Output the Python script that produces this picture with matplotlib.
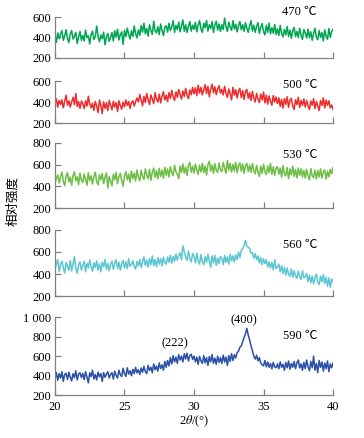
import matplotlib
matplotlib.use("Agg")
import matplotlib.pyplot as plt
import numpy as np

plt.rcParams['font.family'] = ['Liberation Serif', 'Noto Sans CJK SC', 'DejaVu Sans']
plt.rcParams['mathtext.fontset'] = 'stix'

# 2theta grid: 20.0 .. 40.0 step 0.1
two_theta = np.round(np.arange(200, 401) / 10.0, 1)

i_470 = [
    410, 352, 445, 388, 430, 468, 372, 418, 476, 391, 350, 432, 468, 385, 412, 450, 340, 405, 458, 372,
    420, 365, 472, 398, 415, 336, 430, 462, 380, 408, 512, 410, 358, 425, 386, 452, 328, 405, 440, 362,
    400, 448, 365, 466, 402, 480, 375, 428, 455, 330, 470, 408, 492, 430, 385, 465, 410, 512, 438, 395,
    475, 420, 518, 452, 540, 435, 488, 412, 525, 468, 430, 560, 462, 445, 506, 428, 532, 470, 418, 500,
    515, 452, 540, 468, 505, 565, 450, 518, 478, 550, 455, 512, 572, 460, 525, 448, 508, 555, 462, 520,
    480, 548, 455, 522, 565, 485, 450, 540, 495, 568, 462, 525, 488, 555, 450, 520, 560, 472, 532, 460,
    525, 478, 590, 505, 458, 550, 502, 470, 565, 482, 530, 455, 518, 558, 475, 525, 460, 545, 490, 450,
    515, 565, 462, 520, 450, 508, 545, 440, 500, 535, 458, 425, 520, 450, 540, 435, 495, 442, 528, 428,
    485, 420, 518, 442, 405, 480, 425, 508, 410, 472, 392, 465, 498, 408, 460, 398, 490, 420, 382, 478,
    445, 395, 482, 398, 455, 372, 440, 490, 400, 378, 468, 402, 448, 365, 475, 410, 382, 488, 400, 460,
    480]

i_500 = [
    395, 430, 352, 415, 378, 420, 345, 408, 465, 370, 412, 352, 402, 445, 375, 480, 358, 405, 340, 410,
    385, 338, 412, 362, 455, 380, 345, 390, 320, 405, 362, 300, 420, 368, 290, 402, 340, 395, 318, 415,
    370, 325, 408, 352, 395, 310, 412, 365, 332, 400, 355, 420, 368, 405, 340, 395, 412, 362, 405, 438,
    400, 472, 418, 365, 455, 395, 482, 425, 375, 468, 430, 385, 490, 428, 400, 475, 392, 455, 498, 420,
    465, 405, 490, 435, 512, 450, 415, 498, 445, 520, 470, 428, 505, 452, 530, 465, 432, 515, 470, 540,
    478, 535, 460, 560, 485, 540, 468, 515, 565, 480, 550, 450, 522, 570, 488, 545, 470, 525, 555, 485,
    520, 468, 550, 485, 445, 525, 478, 420, 540, 465, 518, 438, 505, 530, 442, 510, 425, 498, 520, 435,
    490, 415, 502, 438, 400, 482, 428, 395, 475, 420, 495, 392, 465, 380, 458, 408, 370, 462, 400, 448,
    385, 440, 358, 425, 342, 432, 378, 450, 350, 418, 435, 360, 330, 422, 375, 445, 348, 415, 368, 430,
    352, 415, 365, 328, 410, 370, 432, 338, 405, 362, 320, 415, 368, 440, 345, 418, 370, 412, 345, 372,
    330]

i_530 = [
    420, 475, 505, 430, 488, 530, 445, 405, 495, 525, 440, 485, 410, 500, 532, 450, 488, 415, 520, 458,
    435, 512, 460, 410, 525, 452, 495, 420, 488, 530, 445, 412, 508, 460, 518, 425, 482, 522, 385, 490,
    450, 405, 512, 460, 528, 425, 488, 520, 452, 400, 495, 535, 460, 512, 435, 540, 470, 520, 448, 550,
    485, 450, 548, 495, 462, 560, 500, 470, 555, 455, 528, 568, 482, 545, 468, 565, 490, 550, 475, 575,
    500, 560, 485, 580, 525, 498, 592, 535, 510, 470, 585, 528, 605, 520, 578, 500, 595, 620, 530, 585,
    520, 605, 550, 510, 595, 532, 612, 525, 588, 505, 600, 630, 540, 595, 520, 610, 545, 528, 615, 550,
    535, 620, 565, 520, 638, 550, 610, 530, 602, 540, 620, 525, 595, 615, 538, 605, 520, 590, 610, 535,
    595, 528, 610, 540, 515, 592, 530, 490, 585, 520, 602, 535, 508, 588, 525, 610, 510, 578, 500, 568,
    580, 510, 568, 485, 590, 515, 495, 572, 470, 560, 505, 585, 490, 555, 478, 568, 500, 560, 485, 548,
    475, 555, 492, 460, 565, 498, 480, 550, 468, 545, 485, 560, 475, 532, 550, 465, 540, 488, 555, 515,
    575]

i_560 = [
    440, 495, 530, 420, 488, 515, 455, 410, 505, 470, 435, 522, 428, 490, 560, 450, 405, 488, 510, 435,
    480, 515, 420, 498, 455, 530, 468, 425, 502, 460, 520, 435, 492, 420, 508, 465, 530, 442, 498, 430,
    488, 515, 442, 500, 530, 450, 508, 435, 495, 522, 455, 512, 448, 540, 470, 488, 520, 465, 445, 515,
    472, 530, 458, 515, 555, 478, 525, 462, 540, 485, 565, 475, 530, 468, 550, 490, 540, 475, 555, 500,
    490, 555, 508, 570, 498, 560, 515, 582, 525, 570, 592, 528, 655, 605, 550, 525, 610, 540, 510, 585,
    565, 500, 590, 520, 490, 575, 515, 485, 560, 505, 580, 520, 460, 565, 500, 570, 478, 545, 495, 560,
    540, 485, 570, 505, 555, 490, 580, 520, 565, 510, 575, 530, 600, 550, 615, 630, 660, 705, 650, 645,
    630, 590, 595, 545, 585, 530, 565, 500, 550, 485, 540, 495, 530, 465, 510, 455, 505, 440, 530, 450,
    465, 490, 420, 475, 405, 460, 390, 455, 400, 380, 445, 370, 430, 385, 360, 425, 375, 350, 430, 365,
    375, 405, 330, 388, 320, 382, 310, 370, 400, 325, 305, 380, 330, 395, 315, 370, 290, 365, 280, 355,
    330]

i_590 = [
    385, 430, 352, 420, 375, 440, 340, 412, 425, 360, 435, 382, 345, 420, 378, 450, 355, 415, 430, 380,
    422, 358, 440, 385, 325, 428, 390, 455, 365, 412, 355, 435, 388, 420, 340, 430, 382, 415, 440, 375,
    410, 430, 365, 445, 400, 375, 455, 408, 390, 475, 420, 392, 480, 415, 450, 398, 465, 420, 485, 428,
    460, 412, 478, 435, 495, 440, 420, 505, 452, 485, 430, 520, 460, 498, 445, 530, 472, 510, 455, 545,
    485, 555, 500, 585, 520, 605, 540, 590, 525, 615, 560, 600, 540, 625, 570, 630, 550, 605, 620, 565,
    600, 540, 590, 515, 598, 550, 525, 605, 530, 585, 505, 595, 540, 615, 525, 580, 515, 600, 535, 585,
    525, 610, 540, 590, 505, 605, 545, 625, 555, 615, 580, 635, 650, 690, 705, 750, 790, 830, 885, 815,
    765, 705, 655, 600, 570, 610, 550, 585, 530, 510, 500, 555, 490, 540, 485, 525, 470, 535, 490, 480,
    520, 470, 540, 485, 515, 455, 535, 480, 550, 465, 525, 485, 545, 470, 530, 560, 478, 520, 455, 535,
    470, 560, 490, 450, 545, 480, 600, 455, 525, 430, 555, 485, 540, 445, 530, 470, 550, 440, 520, 480,
    530]

series = [i_470, i_500, i_530, i_560, i_590]
temps = ["470 ℃", "500 ℃", "530 ℃", "560 ℃", "590 ℃"]
colors = ["#00a651", "#ee2c2c", "#6dbe45", "#5cc6d2", "#2b50a8"]
yticks = [[200, 400, 600], [200, 400, 600], [200, 400, 600, 800],
          [200, 400, 600, 800], [200, 400, 600, 800, 1000]]
xticks = [20, 25, 30, 35, 40]

# axes boxes in figure fraction (left, bottom, width, height)
boxes = [(0.151, 0.868, 0.764, 0.093),
         (0.151, 0.719, 0.764, 0.096),
         (0.151, 0.525, 0.764, 0.149),
         (0.151, 0.324, 0.764, 0.151),
         (0.151, 0.098, 0.764, 0.178)]
label_y = [1.12, 0.90, 0.815, 0.77, 0.756]   # temperature label height (axes frac)

SPINE = "#808080"
fig = plt.figure(figsize=(3.64, 4.38), dpi=100)

for k in range(5):
    ax = fig.add_axes(boxes[k])
    ax.plot(two_theta, series[k], color=colors[k], lw=1.1)
    ax.set_xlim(20, 40)
    ax.set_ylim(yticks[k][0], yticks[k][-1])
    ax.set_yticks(yticks[k])
    ax.set_yticklabels([f"{v:,}".replace(",", " ") for v in yticks[k]])
    ax.set_xticks(xticks)
    for s in ("top", "right"):
        ax.spines[s].set_visible(False)
    for s in ("left", "bottom"):
        ax.spines[s].set_color(SPINE)
        ax.spines[s].set_linewidth(0.9)
    ax.tick_params(direction="in", length=4, width=0.9, color=SPINE,
                   labelsize=9, pad=2.5)
    ax.tick_params(axis="x", pad=4.5)
    ax.patch.set_alpha(0)
    if k < 4:
        ax.tick_params(axis="x", labelbottom=False)
    ax.text(0.88, label_y[k], temps[k], transform=ax.transAxes,
            ha="center", va="center", fontsize=9)
    if k == 4:
        ax.set_xlabel(r"2$\theta$/(°)", fontsize=9, labelpad=0.5)
        ax.text(28.6, 733, "(222)", ha="center", va="center", fontsize=9)
        ax.text(33.6, 969, "(400)", ha="center", va="center", fontsize=9)

fig.text(0.035, 1 - 201 / 438, "相对强度", rotation=90, ha="center", va="center",
         fontsize=9, family=['Noto Sans CJK SC', 'DejaVu Sans'])

fig.savefig("out.png", dpi=100)
